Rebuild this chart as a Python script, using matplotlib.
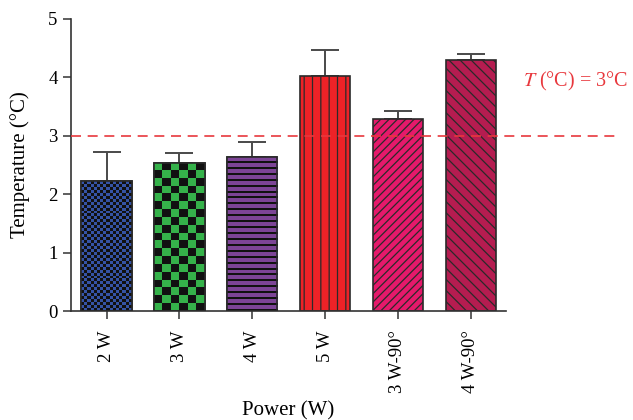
import numpy as np
import matplotlib
matplotlib.use("Agg")
import matplotlib.pyplot as plt
from matplotlib.colors import ListedColormap

# data
labels = ["2 W", "3 W", "4 W", "5 W", "3 W-90°", "4 W-90°"]
temps = [2.22, 2.54, 2.63, 4.03, 3.29, 4.29]
errs = [0.50, 0.17, 0.26, 0.44, 0.14, 0.11]
threshold = 3.0

colors = ["#3553a6", "#35b24a", "#7c4496", "#ed2227", "#e5196b", "#b51c50"]
hatches = [None, None, None, "||", "////", "\\\\\\"]

plt.rcParams["font.family"] = ["Liberation Serif", "DejaVu Serif"]
plt.rcParams["mathtext.fontset"] = "stix"
plt.rcParams["hatch.linewidth"] = 0.9


def checker(n_cols, n_rows):
    return np.add.outer(np.arange(n_rows), np.arange(n_cols)) % 2


def stripes(n_periods):
    # two rows of fill then one black row, repeated
    return np.tile([[0], [0], [1]], (n_periods, 1))


# image fills for the patterned bars (bar index -> cell grid)
fills = {0: checker(16, 44), 1: checker(6, 19), 2: stripes(26)}

fig = plt.figure(figsize=(6.33, 4.2), dpi=100)
ax = fig.add_axes([0.112, 0.2595, 0.687, 0.6955])

x = np.arange(len(labels))
width = 0.69
for i in range(len(labels)):
    bar = ax.bar(x[i], temps[i], width, color=colors[i], edgecolor="#2a2a2a",
                 linewidth=1.2, hatch=hatches[i], zorder=2)[0]
    if i in fills:
        im = ax.imshow(fills[i], cmap=ListedColormap([colors[i], "#111111"]),
                       extent=(x[i] - width / 2, x[i] + width / 2, 0, temps[i]),
                       aspect="auto", interpolation="nearest", zorder=2.5)
        im.set_clip_path(bar)
        ax.bar(x[i], temps[i], width, color="none", edgecolor="#2a2a2a",
               linewidth=1.2, zorder=3)

ax.errorbar(x, temps, yerr=[np.zeros(len(errs)), errs], fmt="none",
            ecolor="#4a4a4a", elinewidth=1.4, capsize=10, capthick=1.4, zorder=1)

ax.axhline(threshold, xmin=0, xmax=1.26, color="#e8383d", lw=1.2,
           dashes=(6, 4), clip_on=False, zorder=4)
ax.text(1.04, 0.785, r"$T$ (°C) = 3°C", transform=ax.transAxes, color="#e8383d",
        fontsize=14.5, va="center", ha="left")

ax.set_xlim(-0.49, 5.48)
ax.set_ylim(0, 5)
ax.set_yticks([0, 1, 2, 3, 4, 5])
ax.set_xticks(x)
ax.set_xticklabels(labels, rotation=90)
ax.tick_params(labelsize=13.5, length=6, width=1.1, color="#333333", direction="out")
ax.tick_params(axis="x", pad=8)
for s in ["top", "right"]:
    ax.spines[s].set_visible(False)
for s in ["left", "bottom"]:
    ax.spines[s].set_linewidth(1.2)
    ax.spines[s].set_color("#333333")

ax.set_ylabel("Temperature (°C)", fontsize=15, labelpad=13)
ax.set_xlabel("Power (W)", fontsize=15, labelpad=6)

fig.savefig("out.png", dpi=100)
